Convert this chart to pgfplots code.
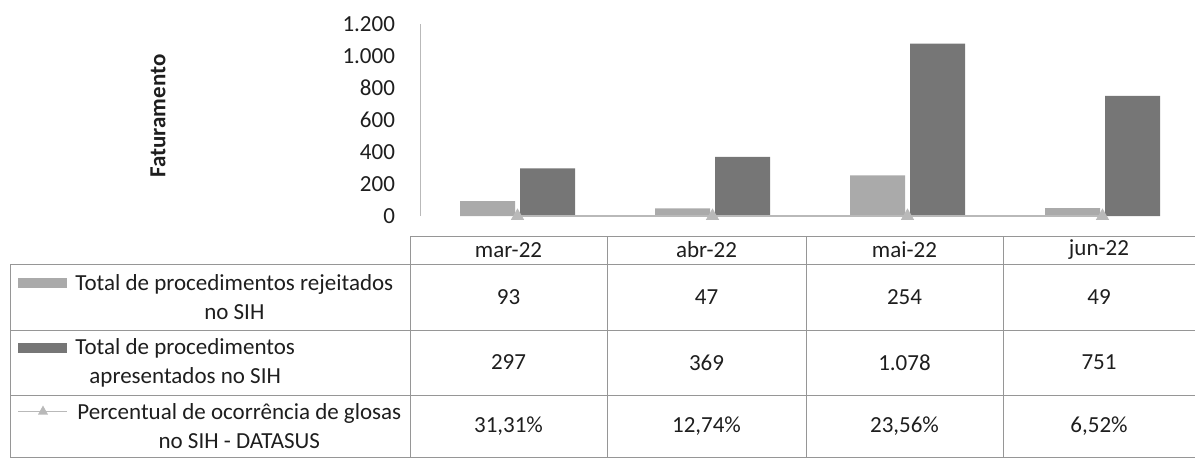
\documentclass[border=0pt]{standalone}
\usepackage{pgfplots}
\pgfplotsset{compat=1.18}
\usepackage{fontspec}
\setmainfont{Carlito}
\definecolor{lightbar}{RGB}{170,170,170}
\definecolor{darkbar}{RGB}{118,118,118}
\definecolor{linegray}{RGB}{185,185,185}
\definecolor{gridc}{RGB}{150,150,150}
\definecolor{txt}{RGB}{30,30,30}
\newcommand\tf{\fontsize{11.5}{14.5}\selectfont}

\begin{document}
\begin{tikzpicture}
\begin{scope}[x=0.5pt,y=-0.5pt]
\path[use as bounding box] (0,0) rectangle (1195,461);
% table grid
\begin{scope}[gridc, line width=0.5pt]
\draw (410,236) -- (1195,236);
\draw (10,264) -- (1195,264);
\draw (10,330) -- (1195,330);
\draw (10,395) -- (1195,395);
\draw (10,457) -- (1195,457);
\draw (10,264) -- (10,457);
\draw (410,236) -- (410,457);
\draw (607,236) -- (607,457);
\draw (806,236) -- (806,457);
\draw (1003,236) -- (1003,457);
\end{scope}
% header
\foreach \x/\t in {508.5/mar-22, 706.5/abr-22, 904.5/mai-22, 1099/jun-22}
  \node[font=\tf, text=txt] at (\x,250) {\t};
% row labels
\node[font=\tf, text=txt, align=center, anchor=west, inner sep=0pt] at (75,297) {Total de procedimentos rejeitados\\no SIH};
\node[font=\tf, text=txt, align=center, anchor=west, inner sep=0pt] at (75,362.5) {Total de procedimentos\\apresentados no SIH};
\node[font=\tf, text=txt, align=center, anchor=west, inner sep=0pt] at (77,426) {Percentual de ocorrência de glosas\\no SIH - DATASUS};
% legend keys
\fill[lightbar] (18,277.5) rectangle (67,287.5);
\fill[darkbar] (18,343) rectangle (67,353);
\draw[linegray, line width=0.8pt] (18,411.5) -- (67,411.5);
\fill[linegray] (43,405.5) -- (48,414.5) -- (38,414.5) -- cycle;
% values
\foreach \x/\t in {508.5/93, 706.5/47, 904.5/254, 1099/49}
  \node[font=\tf, text=txt] at (\x,297) {\t};
\foreach \x/\t in {508.5/297, 706.5/369, 904.5/1.078, 1099/751}
  \node[font=\tf, text=txt] at (\x,362.5) {\t};
\foreach \x/\t in {508.5/{31,31\%}, 706.5/{12,74\%}, 904.5/{23,56\%}, 1099/{6,52\%}}
  \node[font=\tf, text=txt] at (\x,426) {\t};
% y label
\node[rotate=90, font=\fontsize{11.5}{13}\selectfont\bfseries, text=txt] at (158,116) {Faturamento};
\end{scope}

\begin{axis}[
  at={(210pt,-108pt)}, anchor=south west,
  scale only axis, width=390pt, height=96pt,
  xmin=-0.5, xmax=3.5, ymin=0, ymax=1200,
  axis y line=left, axis x line=none,
  axis line style={linegray, -},
  ytick={0,200,...,1200},
  major tick length=0pt,
  yticklabel style={font=\tf, text=txt, xshift=-9pt},
  /pgf/number format/.cd, 1000 sep={.}, assume math mode=true,
  /pgfplots/.cd,
  clip=false]
\addplot[ybar, bar width=27.5pt, bar shift=-15pt, fill=lightbar, draw=none]
  coordinates {(0,93) (1,47) (2,254) (3,49)};
\addplot[ybar, bar width=27.5pt, bar shift=15pt, fill=darkbar, draw=none]
  coordinates {(0,297) (1,369) (2,1078) (3,751)};
\addplot[linegray, line width=0.8pt, mark=triangle*, mark size=3pt, mark options={fill=linegray, draw=linegray}]
  coordinates {(0,0.3131) (1,0.1274) (2,0.2356) (3,0.0652)};
\end{axis}
\end{tikzpicture}
\end{document}
